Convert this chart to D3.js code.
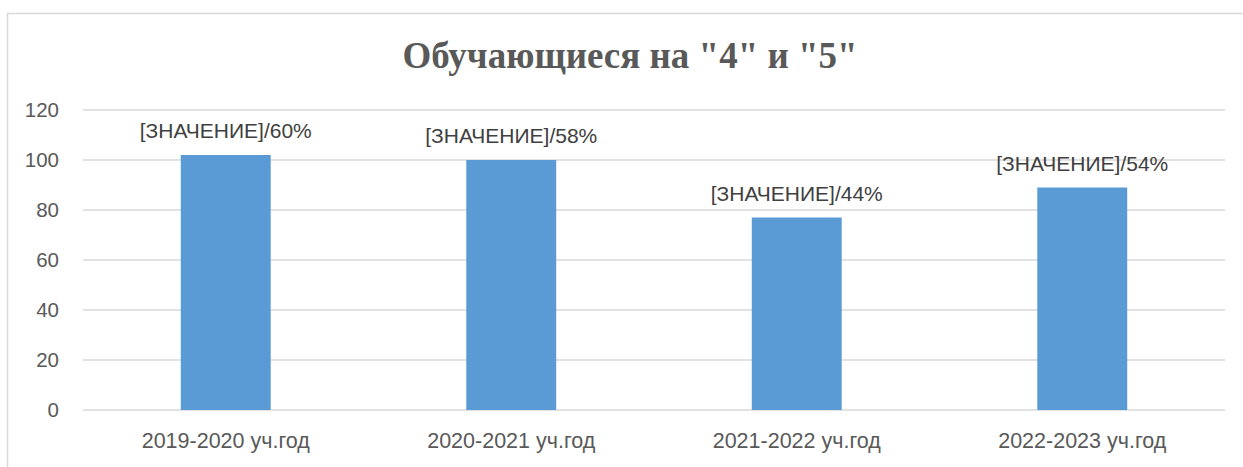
<!DOCTYPE html>
<html>
<head>
<meta charset="utf-8">
<script src="https://cdn.jsdelivr.net/npm/d3@7"></script>
<style>
  body { margin: 0; background: #fff; }
  svg { display: block; }
</style>
</head>
<body>
<div class="canvas"></div>
<script>
const years = ['2019-2020 уч.год', '2020-2021 уч.год', '2021-2022 уч.год', '2022-2023 уч.год'];
const counts = [102, 100, 77, 89];
const shares = ['60%', '58%', '44%', '54%'];
const yTicks = [0, 20, 40, 60, 80, 100, 120];

const dims = { width: 1243, height: 467 };
const plot = { left: 83, right: 1225, top: 110, bottom: 410 };

const svg = d3.select('.canvas')
    .append('svg')
    .attr('width', dims.width)
    .attr('height', dims.height);

// chart frame
svg.append('rect')
    .attr('x', 7.5).attr('y', 13.5)
    .attr('width', 1250).attr('height', 470)
    .attr('fill', 'none')
    .attr('stroke', '#d9d9d9')
    .attr('stroke-width', 1.5);

svg.append('text')
    .attr('x', 630).attr('y', 68)
    .attr('text-anchor', 'middle')
    .attr('font-family', '"Liberation Serif", "Times New Roman", serif')
    .attr('font-weight', 'bold')
    .attr('font-size', 37)
    .attr('fill', '#595959')
    .text('Обучающиеся на "4" и "5"');

const x = d3.scaleBand()
    .domain(years)
    .range([plot.left, plot.right])
    .paddingInner(0.685)
    .paddingOuter(0.3425);

const y = d3.scaleLinear()
    .domain([0, 120])
    .range([plot.bottom, plot.top]);

// gridlines
svg.append('g')
    .selectAll('line')
    .data(yTicks)
    .join('line')
        .attr('x1', plot.left).attr('x2', plot.right)
        .attr('y1', d => y(d)).attr('y2', d => y(d))
        .attr('stroke', '#d9d9d9')
        .attr('stroke-width', 1.5);

const font = '"Liberation Sans", Arial, sans-serif';

// y axis labels
const yAxis = svg.append('g')
    .attr('transform', `translate(${plot.left - 24}, 0)`)
    .call(d3.axisLeft(y).tickValues(yTicks).tickSize(0).tickPadding(0));
yAxis.select('.domain').remove();
yAxis.selectAll('text')
    .attr('font-family', font)
    .attr('font-size', 20.5)
    .attr('fill', '#595959');

// x axis labels
const xAxis = svg.append('g')
    .attr('transform', `translate(0, ${plot.bottom})`)
    .call(d3.axisBottom(x).tickSize(0).tickPadding(23));
xAxis.select('.domain').remove();
xAxis.selectAll('text')
    .attr('font-family', font)
    .attr('font-size', 21.5)
    .attr('fill', '#595959');

// bars
svg.append('g')
    .selectAll('rect')
    .data(counts)
    .join('rect')
        .attr('x', (d, i) => x(years[i]))
        .attr('y', d => y(d))
        .attr('width', x.bandwidth())
        .attr('height', d => y(0) - y(d))
        .attr('fill', '#5b9bd5');

// data labels
svg.append('g')
    .selectAll('text')
    .data(counts)
    .join('text')
        .attr('x', (d, i) => x(years[i]) + x.bandwidth() / 2)
        .attr('y', d => y(d) - 17)
        .attr('text-anchor', 'middle')
        .attr('font-family', font)
        .attr('font-size', 21)
        .attr('fill', '#404040')
        .text((d, i) => `[ЗНАЧЕНИЕ]/${shares[i]}`);
</script>
</body>
</html>
